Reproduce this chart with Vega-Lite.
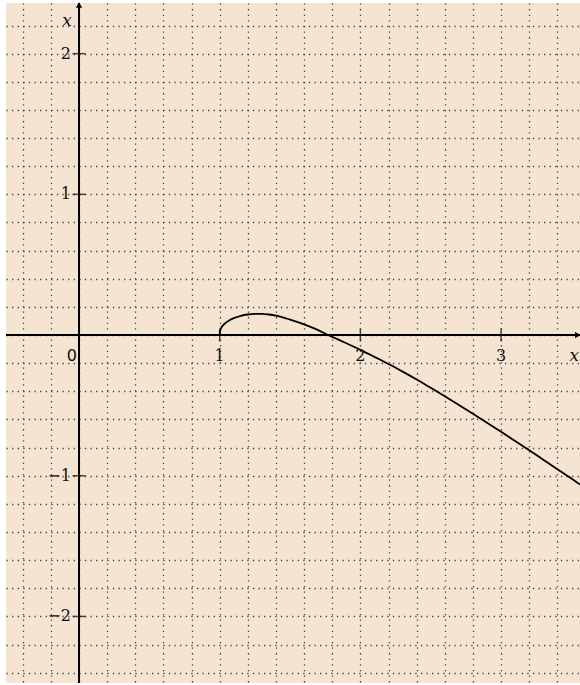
{
  "$schema": "https://vega.github.io/schema/vega-lite/v6.json",
  "width": 574,
  "height": 680,
  "autosize": "none",
  "padding": {"left": 6, "top": 3, "right": 0, "bottom": 2},
  "background": "#ffffff",
  "config": {"view": {"fill": "#F5E4D1", "stroke": null}},
  "datasets": {
    "curve": [
      {"x": 1.0, "y": 0.0}, {"x": 1.002, "y": 0.025}, {"x": 1.008, "y": 0.045}, {"x": 1.02, "y": 0.065},
      {"x": 1.04, "y": 0.085}, {"x": 1.07, "y": 0.105}, {"x": 1.1, "y": 0.12}, {"x": 1.15, "y": 0.137},
      {"x": 1.2, "y": 0.146}, {"x": 1.25, "y": 0.15}, {"x": 1.3, "y": 0.15}, {"x": 1.35, "y": 0.146},
      {"x": 1.4, "y": 0.138}, {"x": 1.5, "y": 0.11}, {"x": 1.6, "y": 0.076}, {"x": 1.7, "y": 0.035},
      {"x": 1.77, "y": 0.0}, {"x": 1.8, "y": -0.013}, {"x": 1.9, "y": -0.058}, {"x": 2.0, "y": -0.105},
      {"x": 2.1, "y": -0.155}, {"x": 2.2, "y": -0.206}, {"x": 2.3, "y": -0.26}, {"x": 2.4, "y": -0.316},
      {"x": 2.5, "y": -0.375}, {"x": 2.6, "y": -0.435}, {"x": 2.7, "y": -0.497}, {"x": 2.8, "y": -0.56},
      {"x": 2.9, "y": -0.624}, {"x": 3.0, "y": -0.688}, {"x": 3.1, "y": -0.753}, {"x": 3.2, "y": -0.819},
      {"x": 3.3, "y": -0.886}, {"x": 3.4, "y": -0.953}, {"x": 3.5, "y": -1.02}, {"x": 3.561, "y": -1.062}
    ],
    "origin": [{"x": 0, "y": 0}],
    "xticks": [{"x": 1, "y": 0, "label": "1"}, {"x": 2, "y": 0, "label": "2"}, {"x": 3, "y": 0, "label": "3"}],
    "yticks": [{"x": 0, "y": 2, "label": "2"}, {"x": 0, "y": 1, "label": "1"}, {"x": 0, "y": -1, "label": "−1"}, {"x": 0, "y": -2, "label": "−2"}],
    "arrowRight": [{"x": 3.545, "y": 0}],
    "arrowUp": [{"x": 0, "y": 2.345}],
    "zeroLabel": [{"x": 0, "y": 0, "label": "0"}],
    "xName": [{"x": 3.561, "y": 0, "label": "x"}],
    "yName": [{"x": 0, "y": 2.36, "label": "x"}]
  },
  "layer": [
    {
      "data": {"name": "origin"},
      "mark": {"type": "rule", "color": "#000000", "strokeWidth": 2},
      "encoding": {
        "y": {"field": "y", "type": "quantitative",
          "scale": {"domain": [-2.473, 2.36], "nice": false, "zero": false},
          "axis": {"values": [-2.4, -2.2, -2, -1.8, -1.6, -1.4, -1.2, -1, -0.8, -0.6, -0.4, -0.2, 0, 0.2, 0.4, 0.6, 0.8, 1, 1.2, 1.4, 1.6, 1.8, 2, 2.2],
            "tickCount": 100,
            "grid": true, "labels": false, "ticks": false, "domain": false, "title": null,
            "gridColor": "#444444", "gridDash": [1.3, 4.3], "gridWidth": 1.3, "gridOpacity": 1}}
      }
    },
    {
      "data": {"name": "origin"},
      "mark": {"type": "rule", "color": "#000000", "strokeWidth": 2},
      "encoding": {
        "x": {"field": "x", "type": "quantitative",
          "scale": {"domain": [-0.519, 3.561], "nice": false, "zero": false},
          "axis": {"values": [-0.4, -0.2, 0, 0.2, 0.4, 0.6, 0.8, 1, 1.2, 1.4, 1.6, 1.8, 2, 2.2, 2.4, 2.6, 2.8, 3, 3.2, 3.4],
            "tickCount": 100,
            "grid": true, "labels": false, "ticks": false, "domain": false, "title": null,
            "gridColor": "#444444", "gridDash": [1.3, 4.3], "gridWidth": 1.3, "gridOpacity": 1}}
      }
    },
    {
      "data": {"name": "curve"},
      "mark": {"type": "line", "color": "#000000", "strokeWidth": 1.8, "interpolate": "monotone"},
      "encoding": {
        "x": {"field": "x", "type": "quantitative"},
        "y": {"field": "y", "type": "quantitative"}
      }
    },
    {
      "data": {"name": "xticks"},
      "mark": {"type": "tick", "orient": "vertical", "color": "#000000", "size": 13, "thickness": 1.5},
      "encoding": {
        "x": {"field": "x", "type": "quantitative"},
        "y": {"field": "y", "type": "quantitative"}
      }
    },
    {
      "data": {"name": "yticks"},
      "mark": {"type": "tick", "orient": "horizontal", "color": "#000000", "size": 13, "thickness": 1.5},
      "encoding": {
        "x": {"field": "x", "type": "quantitative"},
        "y": {"field": "y", "type": "quantitative"}
      }
    },
    {
      "data": {"name": "xticks"},
      "mark": {"type": "text", "font": "DejaVu Serif", "fontSize": 16, "color": "#111111", "align": "center", "baseline": "middle", "dy": 21},
      "encoding": {
        "x": {"field": "x", "type": "quantitative"},
        "y": {"field": "y", "type": "quantitative"},
        "text": {"field": "label"}
      }
    },
    {
      "data": {"name": "yticks"},
      "mark": {"type": "text", "font": "DejaVu Serif", "fontSize": 16, "color": "#111111", "align": "right", "baseline": "middle", "dx": -8},
      "encoding": {
        "x": {"field": "x", "type": "quantitative"},
        "y": {"field": "y", "type": "quantitative"},
        "text": {"field": "label"}
      }
    },
    {
      "data": {"name": "zeroLabel"},
      "mark": {"type": "text", "font": "DejaVu Sans", "fontSize": 16, "color": "#111111", "align": "right", "baseline": "middle", "dx": -2, "dy": 21},
      "encoding": {
        "x": {"field": "x", "type": "quantitative"},
        "y": {"field": "y", "type": "quantitative"},
        "text": {"field": "label"}
      }
    },
    {
      "data": {"name": "xName"},
      "mark": {"type": "text", "font": "DejaVu Serif", "fontSize": 17, "fontStyle": "italic", "color": "#111111", "align": "right", "baseline": "middle", "dx": -1, "dy": 21},
      "encoding": {
        "x": {"field": "x", "type": "quantitative"},
        "y": {"field": "y", "type": "quantitative"},
        "text": {"field": "label"}
      }
    },
    {
      "data": {"name": "yName"},
      "mark": {"type": "text", "font": "DejaVu Serif", "fontSize": 17, "fontStyle": "italic", "color": "#111111", "align": "center", "baseline": "middle", "dx": -12, "dy": 18},
      "encoding": {
        "x": {"field": "x", "type": "quantitative"},
        "y": {"field": "y", "type": "quantitative"},
        "text": {"field": "label"}
      }
    },
    {
      "data": {"name": "arrowRight"},
      "mark": {"type": "point", "shape": "triangle-right", "filled": true, "color": "#000000", "size": 40, "opacity": 1},
      "encoding": {
        "x": {"field": "x", "type": "quantitative"},
        "y": {"field": "y", "type": "quantitative"}
      }
    },
    {
      "data": {"name": "arrowUp"},
      "mark": {"type": "point", "shape": "triangle-up", "filled": true, "color": "#000000", "size": 40, "opacity": 1},
      "encoding": {
        "x": {"field": "x", "type": "quantitative"},
        "y": {"field": "y", "type": "quantitative"}
      }
    }
  ]
}
